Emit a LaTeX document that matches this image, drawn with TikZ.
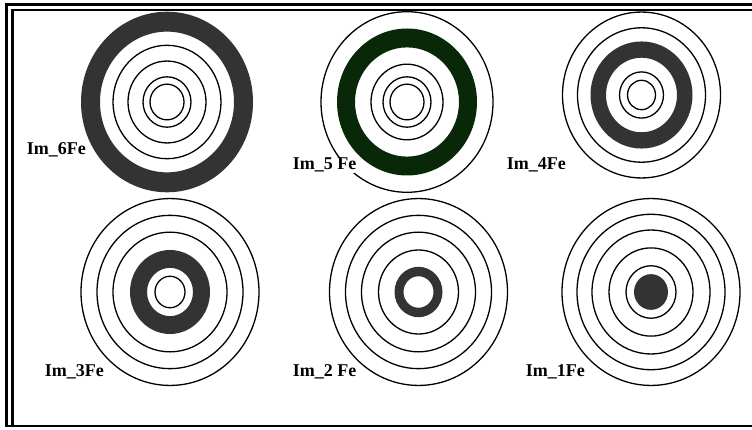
\documentclass[tikz,border=0pt]{standalone}
\usepackage{fontspec}
\setmainfont{Liberation Serif}
\usepackage{tikz}
\usetikzlibrary{positioning}
\definecolor{ringgray}{RGB}{51,51,51}
\definecolor{ringgreen}{RGB}{8,40,8}

\begin{document}
\begin{tikzpicture}[
  x=1pt,y=1pt,
  font=\bfseries\fontsize{18}{18}\selectfont,
  frameline/.style={line width=2.2pt, draw=black},
  circ/.style={line width=1.3pt, draw=black},
  tag/.style={anchor=base west, fill=white, inner sep=0.6pt}
]
\useasboundingbox (0,0) rectangle (752,429);

% frame, open on the right
\draw[frameline] (752,424.5) -- (6.5,424.5) -- (6.5,3);
\draw[frameline] (752,419) -- (12.5,419) -- (12.5,3);
\draw[frameline] (5.4,3) -- (752,3);

% targets: centre / dark ring inner, outer / colour / thin circles
\foreach \cx/\cy/\ri/\ro/\col/\rr in {
    167/327/67/86/ringgray/{17,24,39,54},
    407/327/52/70/ringgreen/{17,24,36,86},
    641.5/334/35.5/51/ringgray/{14,22,64,79},
    170/137/23/40/ringgray/{15,57,73,89},
    418.5/137/15/24/ringgray/{40,57,73,89},
    651/137/0.01/17/ringgray/{25,42,59,74,89}}{
  \fill[\col, even odd rule] (\cx,\cy) ellipse [x radius=\ro, y radius=1.05*\ro]
                              (\cx,\cy) ellipse [x radius=\ri, y radius=1.05*\ri];
  \foreach \r in \rr
    \draw[circ] (\cx,\cy) ellipse [x radius=\r, y radius=1.05*\r];
}

\node[tag] (im6) at (26,274) {Im\_6Fe};
\node[tag] (im5) at (292,259) {Im\_5 Fe};
\node[tag] (im4) at (506,259) {Im\_4Fe};
\node[tag] (im3) at (44,53) {Im\_3Fe};
\node[tag] (im2) at (292,53) {Im\_2 Fe};
\node[tag] (im1) at (525,53) {Im\_1Fe};

\end{tikzpicture}
\end{document}
